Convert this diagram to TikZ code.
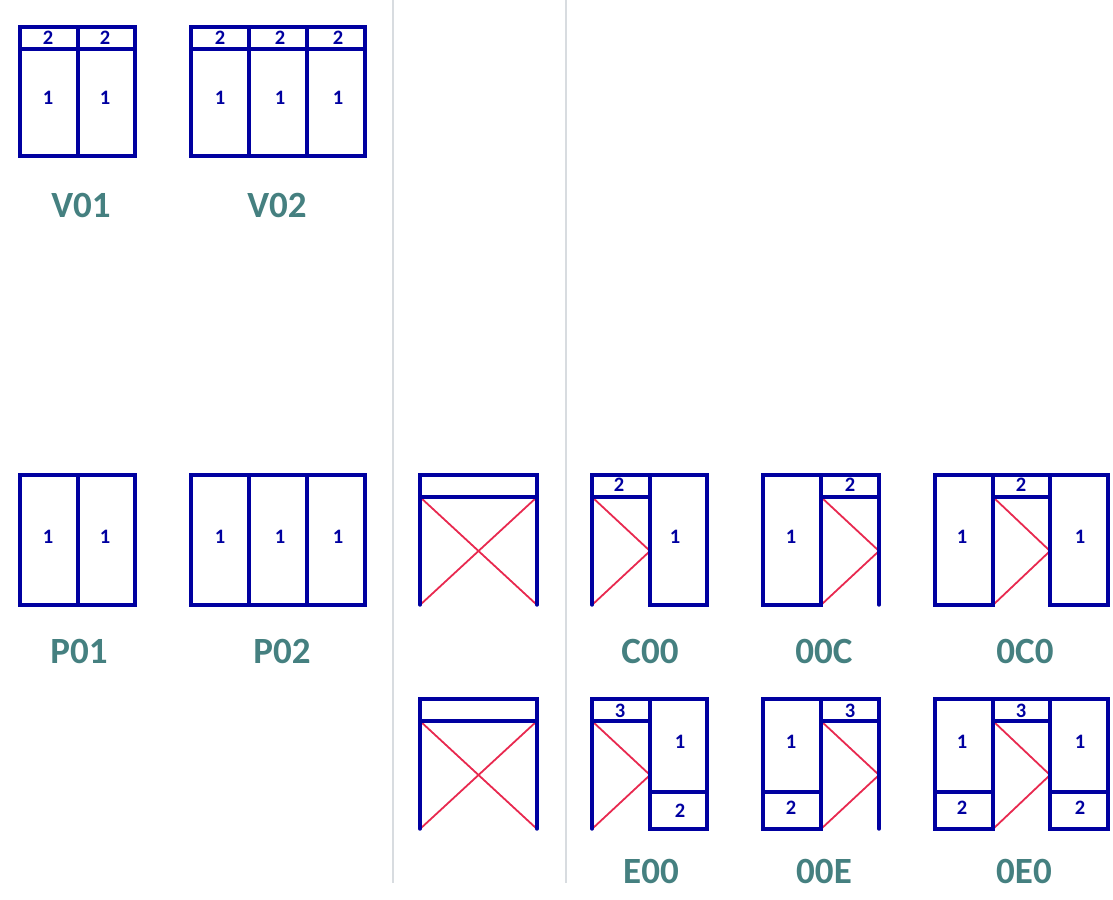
\documentclass[tikz,border=0pt]{standalone}
\usepackage{fontspec}
\setmainfont{Carlito}
\definecolor{frameblue}{HTML}{0000A0}
\definecolor{crossred}{HTML}{E8294F}
\definecolor{labelteal}{HTML}{458080}
\definecolor{sepgrey}{HTML}{D8DCE0}
\tikzset{
  frame/.style={draw=frameblue,line width=3.4pt,line cap=round,line join=miter},
  cross/.style={draw=crossred,line width=1.8pt,line cap=round,line join=round},
  sep/.style={draw=sepgrey,line width=1.8pt},
  num/.style={text=frameblue,font=\fontsize{20.5}{21}\selectfont\bfseries,inner sep=0pt},
  code/.style={text=labelteal,font=\fontsize{37}{38}\selectfont\bfseries,inner sep=0pt}
}
\begin{document}
\begin{tikzpicture}[x=1pt,y=-1pt]
\useasboundingbox (0,0) rectangle (1113,899);
% separators
\draw[sep] (393,0) -- (393,883);
\draw[sep] (566,0) -- (566,883);
% V01
\draw[frame] (20,27) rectangle (135,156) (78,27) -- (78,156) (20,49) -- (135,49);
\node[num] (v1a) at (48,38) {2}; \node[num] (v1b) at (105,38) {2};
\node[num] (v1c) at (48,98) {1}; \node[num] (v1d) at (105,98) {1};
\node[code] (v01) at (81,205) {V01};
% V02
\draw[frame] (191,27) rectangle (365,156) (249,27) -- (249,156) (307,27) -- (307,156) (191,49) -- (365,49);
\node[num] (v2a) at (220,38) {2}; \node[num] (v2b) at (280,38) {2}; \node[num] (v2c) at (338,38) {2};
\node[num] (v2d) at (220,98) {1}; \node[num] (v2e) at (280,98) {1}; \node[num] (v2f) at (338,98) {1};
\node[code] (v02) at (277,205) {V02};
% P01
\draw[frame] (20,475) rectangle (135,605) (78,475) -- (78,605);
\node[num] (p1a) at (48,537) {1}; \node[num] (p1b) at (105,537) {1};
\node[code] (p01) at (79,651) {P01};
% P02
\draw[frame] (191,475) rectangle (365,605) (249,475) -- (249,605) (307,475) -- (307,605);
\node[num] (p2a) at (220,537) {1}; \node[num] (p2b) at (280,537) {1}; \node[num] (p2c) at (338,537) {1};
\node[code] (p02) at (282,651) {P02};
% crossed frames
\draw[cross] (420,497) -- (537,605) (537,497) -- (420,605);
\draw[frame] (420,605) -- (420,475) -- (537,475) -- (537,605) (420,497) -- (537,497);
\draw[cross] (420,721) -- (537,829) (537,721) -- (420,829);
\draw[frame] (420,829) -- (420,699) -- (537,699) -- (537,829) (420,721) -- (537,721);
% C00
\draw[cross] (592,497) -- (650,551) -- (592,605);
\draw[frame] (592,605) -- (592,475) -- (707,475) -- (707,605) -- (650,605) -- (650,475) (592,497) -- (650,497);
\node[num] (c1) at (619,485) {2}; \node[num] (c2) at (675,537) {1};
\node[code] (c00) at (650,651) {C00};
% 00C
\draw[cross] (821,497) -- (879,551) -- (821,605);
\draw[frame] (879,605) -- (879,475) -- (763,475) -- (763,605) -- (821,605) -- (821,475) (821,497) -- (879,497);
\node[num] (d1) at (791,537) {1}; \node[num] (d2) at (850,485) {2};
\node[code] (ooc) at (824,651) {00C};
% 0C0
\draw[cross] (993,497) -- (1050,551) -- (993,605);
\draw[frame] (935,475) rectangle (993,605) (1050,475) rectangle (1108,605) (993,475) -- (1050,475) (993,497) -- (1050,497);
\node[num] (f1) at (962,537) {1}; \node[num] (f2) at (1021,485) {2}; \node[num] (f3) at (1080,537) {1};
\node[code] (oco) at (1025,651) {0C0};
% E00
\draw[cross] (592,721) -- (650,775) -- (592,829);
\draw[frame] (592,829) -- (592,699) -- (707,699) -- (707,829) -- (650,829) -- (650,699) (592,721) -- (650,721) (650,792) -- (707,792);
\node[num] (g1) at (620,711) {3}; \node[num] (g2) at (680,742) {1}; \node[num] (g3) at (680,811) {2};
\node[code] (eoo) at (651,871) {E00};
% 00E
\draw[cross] (821,721) -- (879,775) -- (821,829);
\draw[frame] (879,829) -- (879,699) -- (763,699) -- (763,829) -- (821,829) -- (821,699) (821,721) -- (879,721) (763,792) -- (821,792);
\node[num] (h1) at (791,742) {1}; \node[num] (h2) at (791,808) {2}; \node[num] (h3) at (850,711) {3};
\node[code] (ooe) at (824,871) {00E};
% 0E0
\draw[cross] (993,721) -- (1050,775) -- (993,829);
\draw[frame] (935,699) rectangle (993,829) (1050,699) rectangle (1108,829) (993,699) -- (1050,699) (993,721) -- (1050,721) (935,792) -- (993,792) (1050,792) -- (1108,792);
\node[num] (i1) at (962,742) {1}; \node[num] (i2) at (962,808) {2}; \node[num] (i3) at (1021,711) {3};
\node[num] (i4) at (1080,742) {1}; \node[num] (i5) at (1080,808) {2};
\node[code] (oeo) at (1024,871) {0E0};
\end{tikzpicture}
\end{document}
